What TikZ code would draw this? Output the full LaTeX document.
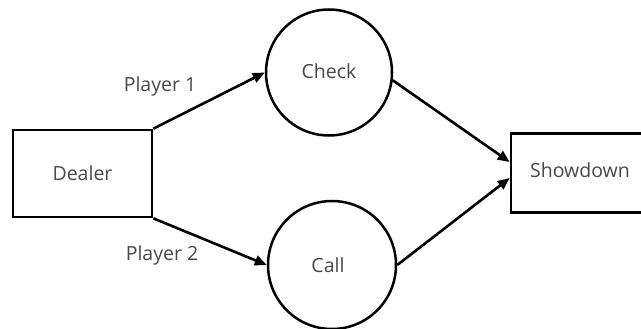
\documentclass[tikz,border=0pt]{standalone}
\usepackage{fontspec}
\setmainfont{Open Sans}
\usetikzlibrary{arrows.meta}
\definecolor{txtgray}{HTML}{484848}
\tikzset{
  boxnode/.style={draw=black, line width=2.6pt, minimum width=139pt, minimum height=79pt, inner sep=0pt, text=txtgray, font=\fontsize{19.5}{22}\selectfont},
  circnode/.style={draw=black, line width=2.5pt, circle, minimum size=126pt, inner sep=0pt, text=txtgray, font=\fontsize{19.5}{22}\selectfont},
  lbl/.style={text=txtgray, font=\fontsize{19.5}{22}\selectfont, inner sep=0pt},
  conn/.style={line width=2.6pt, -{Triangle[length=12pt,width=10pt]}}
}
\begin{document}
\begin{tikzpicture}[x=1pt,y=-1pt]
\useasboundingbox (0,0) rectangle (641,329);
\node[boxnode, minimum height=87pt] (dealer) at (82.5,173.5) {Dealer};
\node[circnode] (check) at (329,72.5) {\raisebox{2pt}{Check}};
\node[circnode, minimum size=128pt] (call) at (332,265) {\hspace*{-8pt}Call};
\node[boxnode, minimum width=138pt] (show) at (580,173) {\raisebox{5pt}{Showdown}};
\node[lbl] (p1) at (160,86) {Player 1};
\node[lbl] (p2) at (162,255) {Player 2};
\draw[conn] (dealer.north east) -- (check.west);
\draw[conn] (dealer.south east) -- (call.west);
\draw[conn] (check.-7) -- ([yshift=11pt]show.west);
\draw[conn] (call.east) -- ([yshift=-5pt]show.west);
\end{tikzpicture}
\end{document}
